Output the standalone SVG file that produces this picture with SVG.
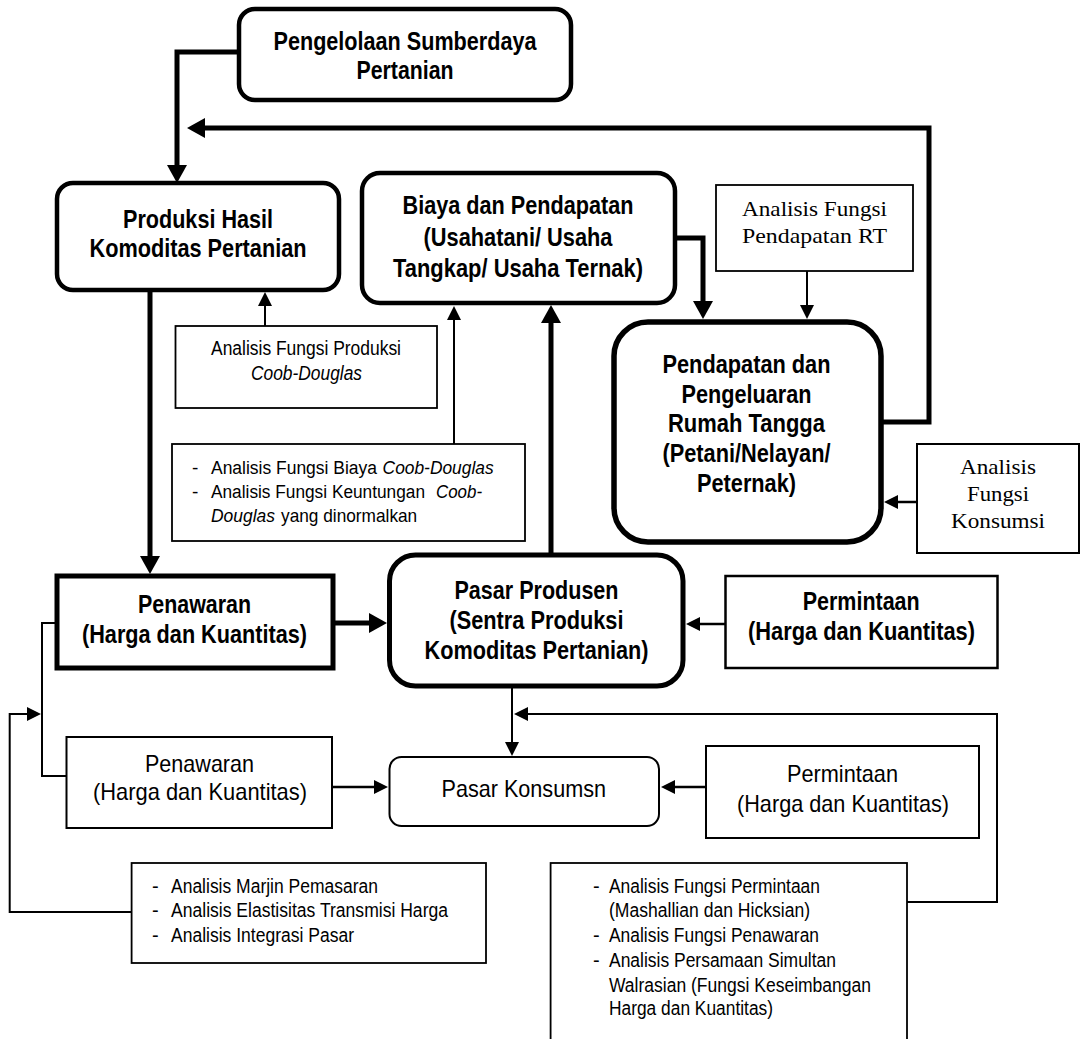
<svg xmlns="http://www.w3.org/2000/svg" width="1086" height="1039" viewBox="0 0 1086 1039">
<defs>
<style>
text{font-family:"Liberation Sans Narrow","Liberation Sans",Arial,sans-serif;fill:#000}
.b{font-weight:bold;font-size:25px}
.r{font-size:24px}
.s{font-size:20px}
.s19{font-size:19px}
.s18{font-size:18px}
.sf{font-family:"Liberation Serif","Times New Roman",serif;font-size:21px}
.it{font-style:italic}
.box{fill:#fff;stroke:#000}
.w45{stroke-width:4.5}
.w5{stroke-width:5}
.w55{stroke-width:5.5}
.w25{stroke-width:2.5}
.w2{stroke-width:2}
.w18{stroke-width:1.8}
.c{fill:none;stroke:#000;stroke-linejoin:miter}
.ct{stroke-width:5;marker-end:url(#ahk)}
.cn{stroke-width:2;marker-end:url(#ahn)}
.cm{stroke-width:2.5;marker-end:url(#ahn)}
</style>
<marker id="ahk" viewBox="0 0 18 20" markerWidth="18" markerHeight="20" refX="6" refY="10" orient="auto" markerUnits="userSpaceOnUse"><path d="M0,0 L18,10 L0,20 z" fill="#000"/></marker>
<marker id="ahn" viewBox="0 0 14 14" markerWidth="14" markerHeight="14" refX="4" refY="7" orient="auto" markerUnits="userSpaceOnUse"><path d="M0,0 L14,7 L0,14 z" fill="#000"/></marker>
</defs>
<rect width="1086" height="1039" fill="#fff"/>

<g id="pengelolaan">
<rect class="box w45" x="239" y="9" width="332" height="91" rx="16"/>
<text class="b" x="273.5" y="50" textLength="263" lengthAdjust="spacingAndGlyphs">Pengelolaan Sumberdaya</text>
<text class="b" x="356.5" y="79" textLength="97" lengthAdjust="spacingAndGlyphs">Pertanian</text>
</g>

<g id="produksi">
<rect class="box w45" x="57" y="183" width="282" height="107" rx="16"/>
<text class="b" x="123" y="228" textLength="150" lengthAdjust="spacingAndGlyphs">Produksi Hasil</text>
<text class="b" x="89.5" y="257" textLength="217" lengthAdjust="spacingAndGlyphs">Komoditas Pertanian</text>
</g>

<g id="biaya">
<rect class="box w45" x="362" y="173" width="313" height="130" rx="18"/>
<text class="b" x="402.5" y="214" textLength="231" lengthAdjust="spacingAndGlyphs">Biaya dan Pendapatan</text>
<text class="b" x="423.5" y="246" textLength="189" lengthAdjust="spacingAndGlyphs">(Usahatani/ Usaha</text>
<text class="b" x="393" y="277" textLength="250" lengthAdjust="spacingAndGlyphs">Tangkap/ Usaha Ternak)</text>
</g>

<g id="analisis-rt">
<rect class="box w18" x="716" y="185" width="197" height="86"/>
<text class="sf" x="742" y="216" textLength="145" lengthAdjust="spacingAndGlyphs">Analisis Fungsi</text>
<text class="sf" x="742" y="243" textLength="145" lengthAdjust="spacingAndGlyphs">Pendapatan RT</text>
</g>

<g id="pendapatan-rt">
<rect class="box w55" x="614" y="322" width="267" height="220" rx="34"/>
<text class="b" x="662.5" y="373" textLength="168" lengthAdjust="spacingAndGlyphs">Pendapatan dan</text>
<text class="b" x="681.5" y="403" textLength="130" lengthAdjust="spacingAndGlyphs">Pengeluaran</text>
<text class="b" x="668" y="432" textLength="157" lengthAdjust="spacingAndGlyphs">Rumah Tangga</text>
<text class="b" x="662.5" y="462" textLength="168" lengthAdjust="spacingAndGlyphs">(Petani/Nelayan/</text>
<text class="b" x="697" y="492" textLength="99" lengthAdjust="spacingAndGlyphs">Peternak)</text>
</g>

<g id="analisis-konsumsi">
<rect class="box w2" x="917" y="444" width="162" height="109"/>
<text class="sf" x="960" y="474" textLength="76" lengthAdjust="spacingAndGlyphs">Analisis</text>
<text class="sf" x="967" y="501" textLength="62" lengthAdjust="spacingAndGlyphs">Fungsi</text>
<text class="sf" x="951" y="528" textLength="94" lengthAdjust="spacingAndGlyphs">Konsumsi</text>
</g>

<g id="analisis-produksi">
<rect class="box w18" x="175.5" y="326" width="261.5" height="82"/>
<text class="s" x="211" y="355" textLength="190" lengthAdjust="spacingAndGlyphs">Analisis Fungsi Produksi</text>
<text class="s it" x="251" y="380" textLength="111" lengthAdjust="spacingAndGlyphs">Coob-Douglas</text>
</g>

<g id="analisis-biaya">
<rect class="box w18" x="172" y="444" width="353" height="97"/>
<text class="s19" x="192" y="473.5">-</text>
<text class="s18" x="211" y="473.5" textLength="166" lengthAdjust="spacingAndGlyphs">Analisis Fungsi Biaya</text>
<text class="s19 it" x="382.6" y="473.5" textLength="111" lengthAdjust="spacingAndGlyphs">Coob-Douglas</text>
<text class="s19" x="192" y="497.5">-</text>
<text class="s18" x="211" y="497.5" textLength="214" lengthAdjust="spacingAndGlyphs">Analisis Fungsi Keuntungan</text>
<text class="s19 it" x="436" y="497.5" textLength="46" lengthAdjust="spacingAndGlyphs">Coob-</text>
<text class="s19 it" x="211" y="521.5" textLength="64" lengthAdjust="spacingAndGlyphs">Douglas</text>
<text class="s19" x="281" y="521.5" textLength="136.2" lengthAdjust="spacingAndGlyphs">yang dinormalkan</text>
</g>

<g id="penawaran-produsen">
<rect class="box w5" x="57" y="576" width="276" height="92"/>
<text class="b" x="138" y="613" textLength="113" lengthAdjust="spacingAndGlyphs">Penawaran</text>
<text class="b" x="82" y="643" textLength="225" lengthAdjust="spacingAndGlyphs">(Harga dan Kuantitas)</text>
</g>

<g id="pasar-produsen">
<rect class="box w5" x="389.5" y="555" width="293.5" height="131" rx="26"/>
<text class="b" x="454.5" y="599" textLength="164" lengthAdjust="spacingAndGlyphs">Pasar Produsen</text>
<text class="b" x="449.5" y="629" textLength="174" lengthAdjust="spacingAndGlyphs">(Sentra Produksi</text>
<text class="b" x="424.5" y="659" textLength="224" lengthAdjust="spacingAndGlyphs">Komoditas Pertanian)</text>
</g>

<g id="permintaan-produsen">
<rect class="box w25" x="725.5" y="576" width="272" height="92"/>
<text class="b" x="802.7" y="610" textLength="117" lengthAdjust="spacingAndGlyphs">Permintaan</text>
<text class="b" x="748" y="640" textLength="227" lengthAdjust="spacingAndGlyphs">(Harga dan Kuantitas)</text>
</g>

<g id="penawaran-konsumen">
<rect class="box w2" x="66.5" y="737" width="265.5" height="91"/>
<text class="r" x="145" y="772" textLength="109" lengthAdjust="spacingAndGlyphs">Penawaran</text>
<text class="r" x="93" y="800" textLength="214" lengthAdjust="spacingAndGlyphs">(Harga dan Kuantitas)</text>
</g>

<g id="pasar-konsumen">
<rect class="box w2" x="389.5" y="757" width="269.5" height="69" rx="12"/>
<text class="r" x="441.5" y="797" textLength="164.5" lengthAdjust="spacingAndGlyphs">Pasar Konsumsn</text>
</g>

<g id="permintaan-konsumen">
<rect class="box w2" x="706" y="746" width="273" height="92"/>
<text class="r" x="787" y="782" textLength="111" lengthAdjust="spacingAndGlyphs">Permintaan</text>
<text class="r" x="737" y="812" textLength="212" lengthAdjust="spacingAndGlyphs">(Harga dan Kuantitas)</text>
</g>

<g id="analisis-marjin">
<rect class="box w18" x="131.6" y="863" width="354.4" height="100"/>
<text class="s" x="152" y="893">-</text>
<text class="s" x="171" y="893" textLength="207" lengthAdjust="spacingAndGlyphs">Analisis Marjin Pemasaran</text>
<text class="s" x="152" y="917">-</text>
<text class="s" x="171" y="917" textLength="277" lengthAdjust="spacingAndGlyphs">Analisis Elastisitas Transmisi Harga</text>
<text class="s" x="152" y="942">-</text>
<text class="s" x="171" y="942" textLength="183" lengthAdjust="spacingAndGlyphs">Analisis Integrasi Pasar</text>
</g>

<g id="analisis-permintaan">
<rect class="box w18" x="550.6" y="863" width="356.4" height="200"/>
<text class="s" x="593" y="893">-</text>
<text class="s" x="609" y="893" textLength="211" lengthAdjust="spacingAndGlyphs">Analisis Fungsi Permintaan</text>
<text class="s" x="609" y="917" textLength="201" lengthAdjust="spacingAndGlyphs">(Mashallian dan Hicksian)</text>
<text class="s" x="593" y="942">-</text>
<text class="s" x="609" y="942" textLength="210" lengthAdjust="spacingAndGlyphs">Analisis Fungsi Penawaran</text>
<text class="s" x="593" y="967">-</text>
<text class="s" x="609" y="967" textLength="227" lengthAdjust="spacingAndGlyphs">Analisis Persamaan Simultan</text>
<text class="s" x="609" y="992" textLength="262" lengthAdjust="spacingAndGlyphs">Walrasian (Fungsi Keseimbangan</text>
<text class="s" x="609" y="1015" textLength="164" lengthAdjust="spacingAndGlyphs">Harga dan Kuantitas)</text>
</g>

<g id="connectors">
<path class="c ct" d="M239,52 H177 V171"/>
<path class="c ct" d="M881,422 H929 V128 H199"/>
<path class="c ct" d="M675,238 H703 V307"/>
<path class="c ct" d="M150,290 V562"/>
<path class="c ct" d="M333,623 H375"/>
<path class="c ct" d="M551,555 V317"/>
<path class="c cn" d="M265,326 V302"/>
<path class="c cn" d="M454,444 V316"/>
<path class="c cn" d="M807,271 V309"/>
<path class="c cm" d="M917,502 H894"/>
<path class="c cm" d="M725.5,624 H696"/>
<path class="c w2" d="M55,623 H42 V776 H66.5"/>
<path class="c cn" d="M131.6,912 H9.7 V714 H31"/>
<path class="c cm" d="M332,787 H378"/>
<path class="c cn" d="M512,686 V746"/>
<path class="c cm" d="M706,787 H671"/>
<path class="c cn" d="M907,902 H997 V714 H524"/>
</g>
</svg>
